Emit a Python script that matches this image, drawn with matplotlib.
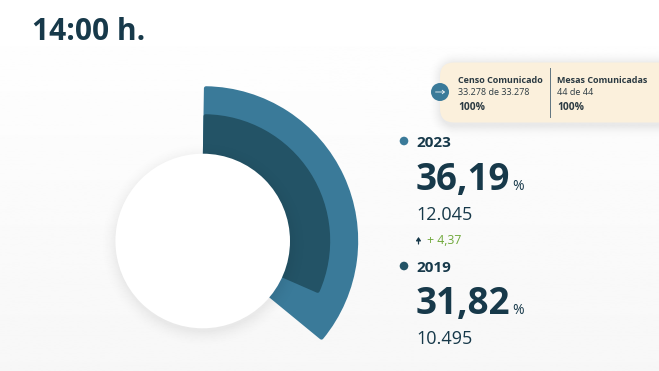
import numpy as np
import matplotlib
matplotlib.use("Agg")
import matplotlib.pyplot as plt
from matplotlib.patches import Wedge, Circle, FancyBboxPatch

plt.rcParams['font.family'] = ['Open Sans', 'DejaVu Sans']

years = ["2023", "2019"]
percent = [36.19, 31.82]
percent_labels = ["36,19", "31,82"]
votes = ["12.045", "10.495"]
diff_label = "+ 4,37"
bar_colors = ["#3a7a99", "#235366"]
title = "14:00 h."

dark = "#17394a"
W, H = 659, 371
cx, cy = 202.7, 241.0


def blur_shadow(dist, spread):
    # soft falloff outside a shape, dist is pixels from the edge
    return np.clip(1 - dist / spread, 0, 1) ** 2


fig = plt.figure(figsize=(W / 100, H / 100), dpi=100)
ax = fig.add_axes([0, 0, 1, 1])
ax.set_xlim(0, W)
ax.set_ylim(H, 0)
ax.axis("off")

# background gets a little grey towards the bottom
grad = np.linspace(1.0, 0.968, 256)[:, None]
ax.imshow(grad, extent=[0, W, H, 0], cmap="gray", vmin=0, vmax=1, aspect="auto", zorder=0)

# rings, thick round edge gives the rounded corners
outer_r = [154.6, 126.6]
for v, r, c, z in zip(percent, outer_r, bar_colors, [2, 3]):
    w = Wedge((203.6, 240.8), r - 2.1, -90 + 0.9, -90 + 360 * v / 100 - 0.9, width=r - 60,
              fc=c, ec=c, lw=3, joinstyle="round", zorder=z)
    ax.add_patch(w)

# shadow of the white circle
yy, xx = np.mgrid[0:H, 0:W]
d = np.hypot(xx - cx, yy - cy - 3) - 87
a = blur_shadow(np.clip(d, 0, None), 18) * 0.06
rgba = np.zeros((H, W, 4))
rgba[..., 3] = a
ax.imshow(rgba, extent=[0, W, H, 0], aspect="auto", zorder=4)
ax.add_patch(Circle((cx, cy), 87.3, fc="white", ec="none", zorder=5))

# tooltip
dx = np.clip(440 + 14 - xx, 0, None)
dy = np.maximum(np.clip(62.5 + 14 - yy, 0, None), np.clip(yy - 122.5 - 3 + 14, 0, None))
d2 = np.hypot(dx, dy) - 14
a2 = blur_shadow(np.clip(d2, 0, None), 14) * 0.08
rgba2 = np.zeros((H, W, 4))
rgba2[..., 3] = a2
ax.imshow(rgba2, extent=[0, W, H, 0], aspect="auto", zorder=6)
ax.add_patch(FancyBboxPatch((440, 62.5), 300, 60, boxstyle="round,pad=0,rounding_size=14",
                            fc="#fbf0dc", ec="none", zorder=7))
ax.plot([550, 550], [68, 117], color="#5f7480", lw=0.7, zorder=8)
ax.add_patch(Circle((440, 92), 9, fc="#3a7a99", ec="none", zorder=8))
ax.annotate("", xy=(445, 92), xytext=(435.5, 92), zorder=9,
            arrowprops=dict(arrowstyle="->,head_width=0.13,head_length=0.16", color="white", lw=0.55,
                            shrinkA=0, shrinkB=0))

txt = dict(color="#2b3a42", va="center", zorder=9)
ax.text(458.5, 80.6, "Censo Comunicado", fontsize=6.5, fontweight="bold", **txt)
ax.text(458.5, 92.6, "33.278 de 33.278", fontsize=6.5, **txt)
ax.text(458.5, 107, "100%", fontsize=7.4, fontweight="bold", **txt)
ax.text(557, 80.6, "Mesas Comunicadas", fontsize=6.5, fontweight="bold", **txt)
ax.text(557, 92.6, "44 de 44", fontsize=6.5, **txt)
ax.text(557, 107, "100%", fontsize=7.4, fontweight="bold", **txt)

# title
ax.text(31.5, 31.5, title, fontsize=21.5, fontweight="bold", color=dark, va="center", zorder=9)

# right side numbers
ys = [143, 268]
pct_y = [180, 304]
votes_y = [215.5, 339]
for i, y in enumerate(ys):
    ax.add_patch(Circle((404, y - 2), 4.3, fc=bar_colors[i], ec="none", zorder=9))
    ax.text(416, y, years[i], fontsize=11, fontweight="bold", color=dark, va="center", zorder=9)
    ax.text(416, pct_y[i], percent_labels[i], fontsize=26.5, fontweight="bold", color=dark,
            va="center", zorder=9)
    ax.text(512.5, pct_y[i] + 6, "%", fontsize=10, color=dark, va="center", zorder=9)
    ax.text(416, votes_y[i], votes[i], fontsize=13, color=dark, va="center", zorder=9)

ax.annotate("", xy=(418.5, 237), xytext=(418.5, 244), zorder=9,
            arrowprops=dict(arrowstyle="-|>,head_width=0.14,head_length=0.2", color=dark, lw=0.9,
                            shrinkA=0, shrinkB=0))
ax.text(427, 241, diff_label, fontsize=8.8, color="#6fa83a", va="center", zorder=9)

fig.savefig("out.png", dpi=100)
